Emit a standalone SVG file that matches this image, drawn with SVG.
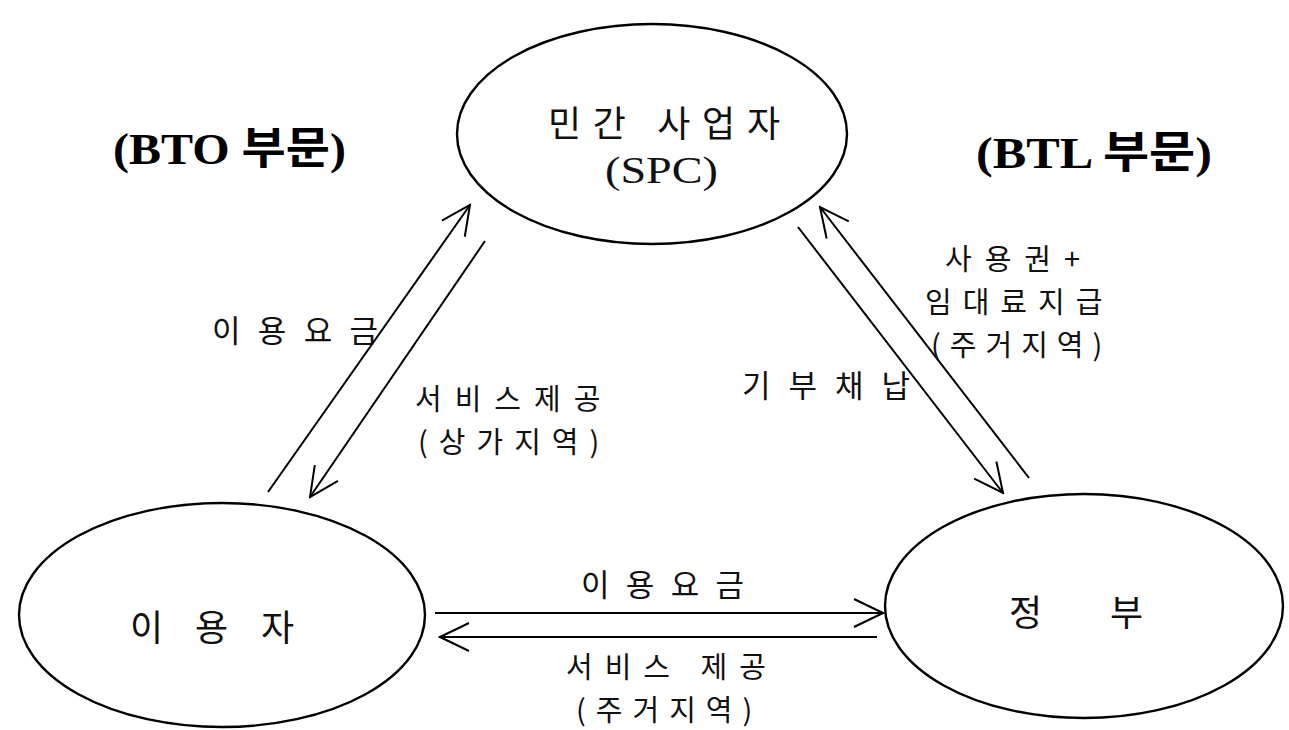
<svg xmlns="http://www.w3.org/2000/svg" width="1289" height="730" viewBox="0 0 1289 730">
<style>
.node{fill:none;stroke:#000;stroke-width:2.4}
.lbl{font-family:"Noto Sans CJK KR","Liberation Serif",sans-serif;font-size:31px;fill:#111}
.stk{font-family:"Noto Sans CJK KR","Liberation Serif",sans-serif;font-size:29px;fill:#111}
.nlbl{font-family:"Noto Sans CJK KR","Liberation Serif",sans-serif;font-size:36px;fill:#111}
.ser{font-family:"Liberation Serif","Noto Sans CJK KR",serif;font-size:38px;fill:#111}
.bold{font-family:"Liberation Serif","Noto Sans CJK KR",serif;font-size:44px;font-weight:bold;fill:#000}
.conn line{stroke:#000;stroke-width:2}
</style>
<defs>
<marker id="ah" viewBox="-32 -16 34 32" refX="0" refY="0" markerWidth="34" markerHeight="32" markerUnits="userSpaceOnUse" orient="auto">
<path d="M -29 -14 L 0 0 L -29 14" fill="none" stroke="#000" stroke-width="2"/>
</marker>
</defs>
<rect width="1289" height="730" fill="#fff"/>
<text class="bold" x="113" y="164" textLength="233" lengthAdjust="spacingAndGlyphs">(BTO 부문)</text>
<text class="bold" x="976" y="168" textLength="236" lengthAdjust="spacingAndGlyphs">(BTL 부문)</text>
<g id="spc">
<ellipse class="node" cx="652" cy="134" rx="195" ry="110"/>
<text class="nlbl" x="548" y="137" textLength="232" lengthAdjust="spacing">민간 사업자</text>
<text class="ser" x="605" y="183" textLength="113" lengthAdjust="spacingAndGlyphs">(SPC)</text>
</g>
<g id="user">
<ellipse class="node" cx="222" cy="615" rx="203" ry="112"/>
<text class="nlbl" y="641"><tspan x="130">이</tspan><tspan x="195">용</tspan><tspan x="261">자</tspan></text>
</g>
<g id="gov">
<ellipse class="node" cx="1084" cy="606" rx="199" ry="112"/>
<text class="nlbl" y="626"><tspan x="1009">정</tspan><tspan x="1110">부</tspan></text>
</g>
<g id="connectors" class="conn">
<line x1="268" y1="492" x2="470" y2="205" marker-end="url(#ah)"/>
<line x1="485" y1="241" x2="310" y2="497" marker-end="url(#ah)"/>
<line x1="798" y1="227" x2="1003" y2="493" marker-end="url(#ah)"/>
<line x1="1029" y1="478" x2="820" y2="207" marker-end="url(#ah)"/>
<line x1="435" y1="613" x2="883" y2="613" marker-end="url(#ah)"/>
<line x1="877" y1="637" x2="440" y2="637" marker-end="url(#ah)"/>
</g>
<g id="labels">
<text class="lbl" x="212" y="342" textLength="166" lengthAdjust="spacing">이용요금</text>
<text class="stk"><tspan x="415" y="410" letter-spacing="13">서비스제공</tspan><tspan x="418" y="453" letter-spacing="11">(상가지역)</tspan></text>
<text class="lbl" x="742" y="397" textLength="168" lengthAdjust="spacing">기부채납</text>
<text class="stk"><tspan x="945" y="270" letter-spacing="13">사용권+</tspan><tspan x="925" y="313" letter-spacing="11">임대료지급</tspan><tspan x="931" y="356" letter-spacing="9">(주거지역)</tspan></text>
<text class="lbl" x="581" y="596" textLength="163" lengthAdjust="spacing">이용요금</text>
<text class="stk"><tspan x="566" y="678" letter-spacing="12">서비스 제공</tspan><tspan x="576" y="721" letter-spacing="10">(주거지역)</tspan></text>
</g>
</svg>
